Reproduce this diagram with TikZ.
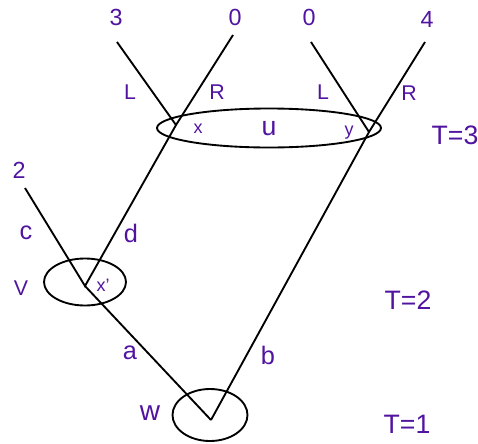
\documentclass[tikz,border=0pt]{standalone}
\usepackage{fontspec}
\setmainfont{Liberation Sans}
\definecolor{labelpurple}{RGB}{80,20,160}
\tikzset{
  lbl/.style={text=labelpurple, inner sep=0pt, font=\fontsize{16}{18}\selectfont},
  lblsmall/.style={lbl, font=\fontsize{13.5}{15}\selectfont},
  lblbig/.style={lbl, font=\fontsize{19}{21}\selectfont},
  stagelbl/.style={lbl, font=\fontsize{20}{22}\selectfont},
}

\begin{document}
\begin{tikzpicture}[x=0.75pt, y=-0.75pt, line width=1.4pt]
    \useasboundingbox (0,0) rectangle (478,443);

    % 决策点与叶子端点
    \coordinate (w)  at (211,420);
    \coordinate (xp) at (85,286);
    \coordinate (xv) at (176,125);
    \coordinate (yv) at (369,132);
    \coordinate (leafthree) at (117,42);
    \coordinate (leafzeroa) at (233,35);
    \coordinate (leafzerob) at (311,42);
    \coordinate (leaffour)  at (425,42);
    \coordinate (leaftwo)   at (25,188);

    % 信息集 u, v, w (椭圆)
    \draw (269,128) ellipse [x radius=112, y radius=19.5];
    \draw (85,282) ellipse [x radius=41, y radius=23.5];
    \draw (210,415) ellipse [x radius=37.5, y radius=26];

    % 树枝
    \draw (w) -- (xp);
    \draw (w) -- (yv) -- (leaffour);
    \draw (leaftwo) -- (xp) -- (xv) -- (leafzeroa);
    \draw (leafthree) -- (xv);
    \draw (leafzerob) -- (yv);

    % 收益
    \node[lbl, font=\fontsize{17.5}{19}\selectfont] (paythree) at (116,17) {3};
    \node[lbl, font=\fontsize{17.5}{19}\selectfont] (payzeroa) at (235,17) {0};
    \node[lbl, font=\fontsize{17.5}{19}\selectfont] (payzerob) at (309,17) {0};
    \node[lbl, font=\fontsize{17.5}{19}\selectfont] (payfour) at (427,19) {4};
    \node[lbl, font=\fontsize{17.5}{19}\selectfont] (paytwo) at (19,170) {2};

    % 动作标注
    \node[lbl] (lefta) at (130,92) {L};
    \node[lbl] (righta) at (217,92) {R};
    \node[lbl] (leftb) at (323,92) {L};
    \node[lbl] (rightb) at (409,93) {R};
    \node[lblbig] (actc) at (26,233) {c};
    \node[lblbig] (actd) at (131,233) {d};
    \node[lblbig] (acta) at (130,353) {a};
    \node[lblbig] (actb) at (268,355) {b};

    % 节点与信息集名称
    \node[lblsmall] (namex) at (198,129) {x};
    \node[lblsmall] (namey) at (349,133) {y};
    \node[lblsmall] (namexp) at (103,285) {x'};
    \node[lblbig, font=\fontsize{20}{22}\selectfont] (nameu) at (269,129) {u};
    \node[lbl] (namev) at (21,288) {V};
    \node[lblbig, font=\fontsize{21}{23}\selectfont] (namew) at (150,413) {w};

    % 时间
    \node[stagelbl] (tthree) at (455,135) {T=3};
    \node[stagelbl] (ttwo) at (408,300) {T=2};
    \node[stagelbl] (tone) at (407,424) {T=1};
\end{tikzpicture}
\end{document}
